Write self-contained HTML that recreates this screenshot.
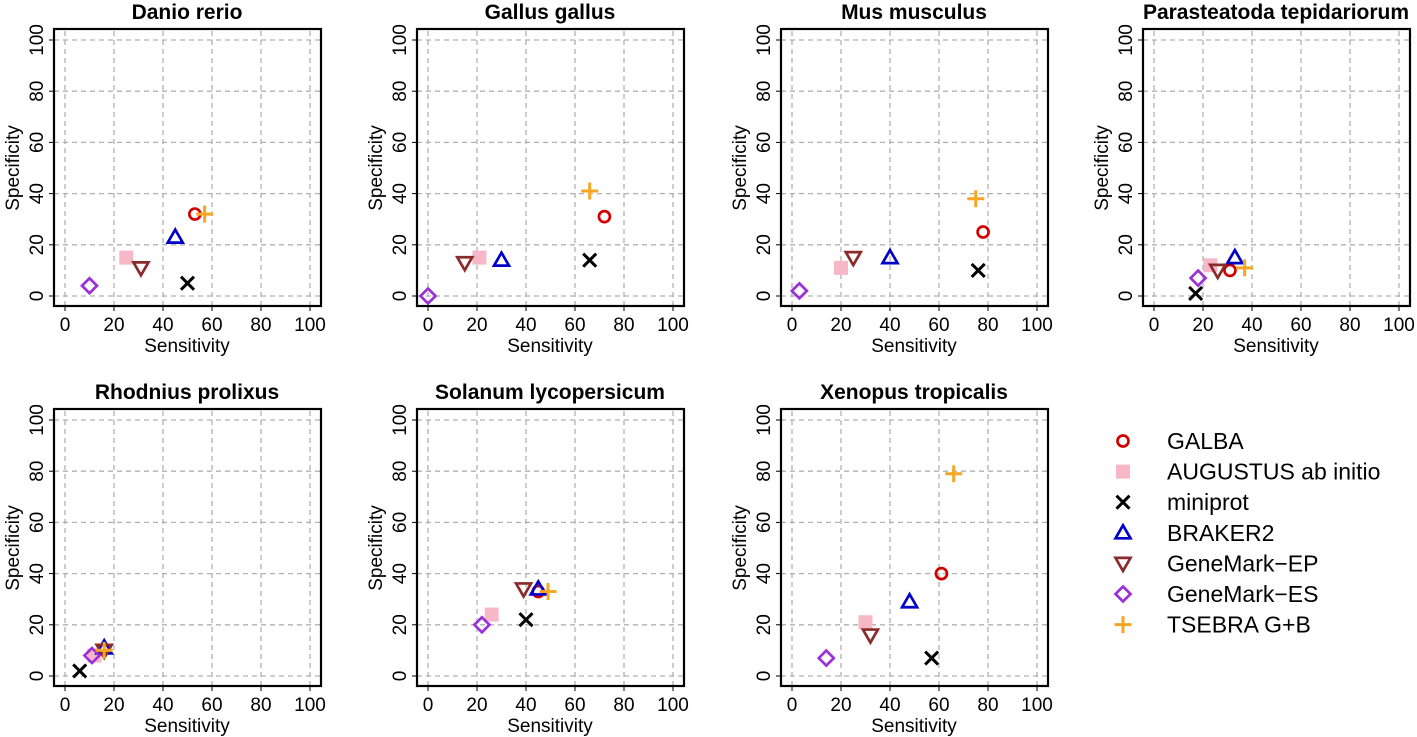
<!DOCTYPE html>
<html><head><meta charset="utf-8"><style>
html,body{margin:0;padding:0;background:#fff;}
svg{display:block;font-family:"Liberation Sans",Arial,sans-serif;}
</style></head><body>
<svg id="chart" width="1417" height="737"></svg>
<script>
const species = ["Danio rerio","Gallus gallus","Mus musculus","Parasteatoda tepidariorum","Rhodnius prolixus","Solanum lycopersicum","Xenopus tropicalis"];
const methods = ["GALBA","AUGUSTUS ab initio","miniprot","BRAKER2","GeneMark\u2212EP","GeneMark\u2212ES","TSEBRA G+B"];
// sensitivity per species, in method order
const sensitivity = [
  [53,25,50,45,31,10,57],
  [72,21,66,30,15,0,66],
  [78,20,76,40,25,3,75],
  [31,23,17,33,26,18,37],
  [12,12,6,16,16,11,16],
  [45,26,40,45,39,22,49],
  [61,30,57,48,32,14,66]
];
const specificity = [
  [32,15,5,23,11,4,32],
  [31,15,14,14,13,0,41],
  [25,11,10,15,15,2,38],
  [10,12,1,15,10,7,11],
  [8,8,2,11,10,8,10],
  [33,24,22,34,34,20,33],
  [40,21,7,29,16,7,79]
];
const ticks = [0,20,40,60,80,100];
const colors = ["#d40000","#f6b8c6","#000000","#0000c8","#8b2a2a","#9b30d8","#f5a623"];
const shapes = ["circle","square","x","tri","itri","diamond","plus"];

const NS="http://www.w3.org/2000/svg";
const svg=document.getElementById('chart');
function mk(tag,attrs,parent){const e=document.createElementNS(NS,tag);for(const k in attrs)e.setAttribute(k,attrs[k]);(parent||svg).appendChild(e);return e;}

function marker(g,shape,cx,cy,col){
  const s=6.5;
  if(shape==="circle") return mk('circle',{cx:cx,cy:cy,r:5.5,fill:'none',stroke:col,'stroke-width':2.7},g);
  if(shape==="square") return mk('rect',{x:cx-7,y:cy-7,width:14,height:14,fill:col},g);
  if(shape==="x") return mk('path',{d:`M${cx-s} ${cy-s}L${cx+s} ${cy+s}M${cx-s} ${cy+s}L${cx+s} ${cy-s}`,stroke:col,'stroke-width':3,fill:'none'},g);
  if(shape==="tri") return mk('path',{d:`M${cx} ${cy-7.5}L${cx+7.5} ${cy+5.5}L${cx-7.5} ${cy+5.5}Z`,stroke:col,'stroke-width':2.7,fill:'none'},g);
  if(shape==="itri") return mk('path',{d:`M${cx} ${cy+7.5}L${cx+7.5} ${cy-5.5}L${cx-7.5} ${cy-5.5}Z`,stroke:col,'stroke-width':2.7,fill:'none'},g);
  if(shape==="diamond") return mk('path',{d:`M${cx} ${cy-7.5}L${cx+7.5} ${cy}L${cx} ${cy+7.5}L${cx-7.5} ${cy}Z`,stroke:col,'stroke-width':2.7,fill:'none'},g);
  return mk('path',{d:`M${cx-8.5} ${cy}L${cx+8.5} ${cy}M${cx} ${cy-8.5}L${cx} ${cy+8.5}`,stroke:col,'stroke-width':3,fill:'none'},g);
}

const x0s=[65,428,792,1154];
species.forEach((sp,i)=>{
  const col=i%4,row=Math.floor(i/4);
  const ox=x0s[col], oy=296+row*380;
  const sx=v=>ox+v*2.45, sy=v=>oy-v*2.56;
  const g=mk('g',{});
  
  
  ticks.forEach(t=>{
    mk('line',{x1:sx(t),x2:sx(t),y1:oy+10,y2:oy-266,stroke:'#b0b0b0','stroke-dasharray':'5,4','stroke-width':1.3},g);
    mk('line',{x1:ox-11,x2:ox+256,y1:sy(t),y2:sy(t),stroke:'#b0b0b0','stroke-dasharray':'5,4','stroke-width':1.3},g);
    mk('line',{x1:sx(t),x2:sx(t),y1:oy+10,y2:oy+15,stroke:'#000','stroke-width':1},g);
    mk('line',{x1:ox-11,x2:ox-16,y1:sy(t),y2:sy(t),stroke:'#000','stroke-width':1},g);
    const xt=mk('text',{x:sx(t),y:oy+35,'text-anchor':'middle','font-size':19},g);xt.textContent=t;
    
    
    const yt=mk('text',{x:0,y:0,'text-anchor':'middle','font-size':19,transform:`translate(${ox-22},${sy(t)}) rotate(-90)`},g);yt.textContent=t;
    
    
  });
  const box=mk('rect',{x:ox-11,y:oy-267,width:267,height:277,fill:'none',stroke:'#000','stroke-width':2.2},g);
  
  
  const ti=mk('text',{x:ox+122,y:oy-277,'text-anchor':'middle','font-size':21,'font-weight':'bold'},g);ti.textContent=sp;
  
  
  const xl=mk('text',{x:ox+122,y:oy+56,'text-anchor':'middle','font-size':19},g);xl.textContent='Sensitivity';
  
  
  const yl=mk('text',{x:0,y:0,'text-anchor':'middle','font-size':19,transform:`translate(${ox-46},${oy-128}) rotate(-90)`},g);yl.textContent='Specificity';
  
  
  methods.forEach((m,j)=>{
    const p=marker(g,shapes[j],sx(sensitivity[i][j]),sy(specificity[i][j]),colors[j]);
    
    
  });
});
const lg=mk('g',{});


methods.forEach((m,j)=>{
  const y=441+j*30.6;
  const p=marker(lg,shapes[j],1123,y,colors[j]);
  
  
  const t=mk('text',{x:1167,y:y+8,'font-size':23},lg);t.textContent=m;
  
  
});
</script>
</body></html>
